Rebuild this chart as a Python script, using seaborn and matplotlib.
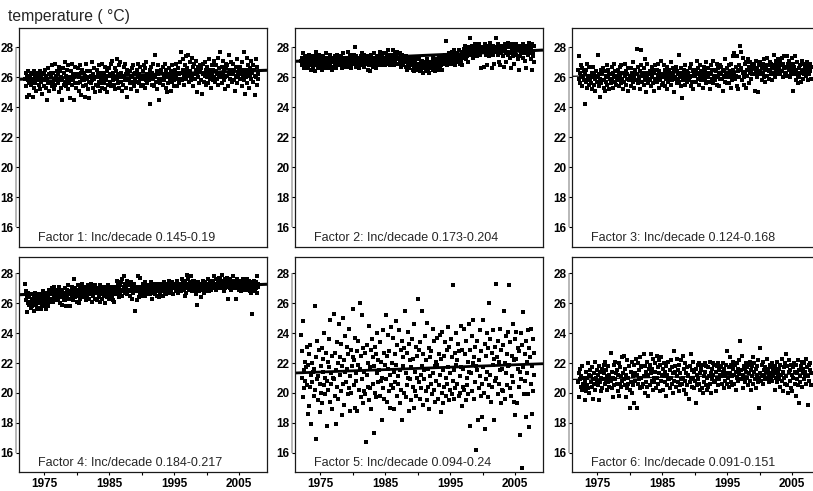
import numpy as np
import pandas as pd
import seaborn as sns
import matplotlib.pyplot as plt
from matplotlib import transforms
from matplotlib.path import Path

# monthly values, one line per year (Jan..Dec), 1972-2007
years = list(range(1972, 2008))
months = list(range(1, 13))

factor1_temp = """
25.9 26.3 25.4 24.7 26.1 25.8 26.4 25.6 24.8 26.0 25.5 26.2
25.7 26.3 24.7 25.9 26.4 25.3 26.0 25.6 26.2 25.1 25.8 26.3
26.1 25.5 25.9 26.4 25.2 26.0 25.7 26.3 24.9 25.8 26.2 25.4
25.8 26.5 25.3 26.1 24.5 25.9 26.6 25.6 26.2 25.1 25.7 26.3
26.0 25.4 26.8 25.7 26.3 25.2 25.9 26.9 25.5 26.1 25.8 26.4
25.6 26.2 25.0 26.7 25.9 26.4 25.3 26.0 24.5 25.8 26.6 25.5
26.3 25.7 27.0 25.4 26.1 25.9 26.5 25.2 26.8 25.6 26.0 24.6
25.9 26.4 25.5 26.9 25.8 26.2 24.5 26.0 25.6 26.7 25.3 26.1
26.2 25.6 26.6 25.1 26.0 26.8 25.7 26.3 24.8 25.9 26.5 25.4
25.8 26.3 24.7 26.1 25.5 26.9 25.9 26.4 25.2 26.0 24.6 25.7
26.4 25.6 26.1 27.0 25.8 25.3 26.2 25.9 26.6 25.0 26.0 25.5
26.0 26.5 25.4 26.2 25.7 26.8 25.1 26.3 25.9 25.6 26.9 25.3
25.9 26.3 25.6 26.7 25.2 26.0 25.8 26.4 25.0 26.1 25.5 26.6
26.2 25.7 26.9 25.4 26.1 27.1 25.8 26.3 25.5 26.0 26.6 25.2
26.4 25.9 27.2 25.6 26.2 25.3 26.8 26.0 27.0 25.7 26.3 25.1
26.1 25.5 26.7 26.0 25.8 26.9 25.3 26.2 24.7 26.5 25.9 26.3
25.8 26.4 25.6 26.1 25.2 26.6 26.0 25.7 26.8 25.4 26.2 25.9
26.3 25.7 26.5 25.1 26.0 26.9 25.6 26.2 25.9 26.7 25.4 26.1
25.9 26.4 25.5 26.8 26.1 25.3 26.6 25.8 27.0 26.2 25.6 26.0
26.2 25.8 26.5 24.2 26.0 26.7 25.5 26.3 25.9 26.9 25.4 26.1
26.0 27.5 25.7 26.4 25.2 26.2 26.8 25.9 24.5 26.3 25.6 26.5
26.4 25.9 26.7 25.5 26.1 25.8 26.9 26.2 25.3 26.5 25.0 26.0
26.2 25.6 26.6 26.0 25.9 26.4 25.1 26.8 25.7 26.3 26.0 25.4
25.8 26.5 26.1 26.9 25.4 26.3 25.9 26.6 25.6 26.2 27.0 25.9
26.3 27.7 25.8 26.5 27.2 26.0 25.5 26.8 26.2 27.4 25.9 26.4
26.6 26.1 27.5 25.7 26.4 27.0 26.2 25.8 27.3 26.0 26.7 25.4
26.2 26.9 25.9 26.5 27.1 26.3 25.0 26.7 26.0 26.4 25.6 26.8
26.4 25.8 26.6 24.9 26.2 26.9 25.7 26.3 26.1 27.0 25.5 26.5
26.0 26.7 25.6 26.3 27.2 25.9 26.5 26.1 25.3 26.8 26.2 25.8
26.5 26.0 27.1 25.7 26.4 26.8 25.9 26.2 27.3 25.5 26.6 26.1
26.3 27.7 26.0 25.6 26.7 26.2 27.1 25.8 26.5 26.0 25.2 26.9
26.6 26.1 26.8 25.4 26.3 27.5 25.9 26.5 26.2 27.0 25.7 26.4
26.2 26.9 25.8 26.5 25.1 26.7 26.1 27.2 25.6 26.3 26.0 26.6
26.4 25.9 26.7 26.2 27.0 25.4 26.5 26.1 27.7 25.8 26.3 24.9
26.5 26.0 27.3 25.6 26.8 26.2 25.3 26.6 26.1 27.1 25.9 26.4
26.3 26.8 25.7 26.5 24.8 26.1 27.2 26.0 25.5 26.7 26.2 25.9
"""

factor2_temp = """
27.1 26.8 27.3 27.6 26.9 27.2 26.6 27.0 27.4 26.7 27.1 26.9
27.3 26.6 27.0 27.5 26.8 27.2 26.5 27.4 26.9 27.1 26.7 27.3
26.9 27.4 26.4 27.1 27.7 26.8 27.2 26.6 27.0 27.5 26.9 27.3
27.2 26.7 27.0 26.5 27.4 27.1 26.8 27.3 26.6 27.0 27.6 26.9
26.8 27.3 27.0 26.6 27.2 26.9 27.5 26.7 27.1 26.5 27.3 27.0
27.1 26.7 27.4 26.9 27.2 26.6 27.0 27.5 26.8 27.3 26.9 27.1
27.0 27.4 26.8 27.2 26.6 27.1 27.6 26.9 27.3 26.7 27.0 27.2
27.3 26.8 27.7 27.0 26.7 27.2 26.9 27.5 27.1 26.6 27.3 27.0
27.1 27.5 26.9 28.0 27.2 26.7 27.4 27.0 26.8 27.3 27.1 26.6
27.2 26.8 27.4 27.1 27.6 26.9 27.0 27.3 26.7 27.5 27.2 26.9
26.9 27.3 27.0 26.5 27.4 27.1 26.8 27.2 26.4 27.0 27.5 26.8
27.1 26.7 27.3 27.6 26.9 27.2 26.6 27.0 27.4 26.8 27.1 27.3
27.4 27.0 27.7 26.8 27.2 27.5 27.0 26.9 27.3 27.6 27.1 26.8
27.2 27.6 27.0 27.4 26.9 27.8 27.1 27.3 26.8 27.5 27.0 27.2
27.5 27.1 27.8 27.3 26.8 27.6 27.0 27.4 27.2 26.9 27.7 27.3
27.3 26.9 27.6 27.1 27.4 26.7 27.2 27.5 27.0 26.8 27.3 27.1
27.0 27.4 26.7 27.2 26.5 27.1 26.9 27.3 26.6 27.0 26.8 27.2
26.8 27.2 26.5 27.0 26.7 26.4 27.1 26.9 26.6 27.3 26.8 26.5
26.9 26.6 27.2 26.4 26.8 27.0 26.5 26.7 27.1 26.3 26.9 26.6
26.7 27.0 26.4 26.9 26.6 27.2 26.5 26.8 26.3 27.0 26.7 26.9
27.0 26.6 26.8 27.3 26.5 26.9 27.1 26.4 26.7 27.0 26.6 27.2
26.8 27.1 26.5 27.4 26.9 26.6 27.2 26.8 27.0 26.5 27.3 26.9
27.2 26.9 27.5 27.0 28.4 27.3 26.8 27.4 27.1 27.6 26.9 27.2
27.4 27.0 27.7 27.2 26.9 27.5 27.1 27.8 27.3 26.8 27.4 27.6
27.2 27.6 27.0 27.4 27.8 26.9 27.3 27.5 27.1 27.7 26.8 27.4
27.5 27.9 27.3 28.1 27.6 27.2 27.8 27.4 28.0 27.0 27.7 27.5
28.6 27.8 27.5 28.1 27.7 27.3 28.0 27.6 27.9 27.4 28.2 27.7
27.8 28.1 27.4 27.9 27.6 28.2 27.5 27.8 26.6 28.0 27.7 27.9
27.7 28.0 26.7 27.9 28.2 27.5 27.8 26.8 28.1 27.6 27.9 27.4
28.0 27.6 28.3 27.8 26.6 27.9 27.5 28.1 27.7 26.9 28.0 27.8
27.9 28.6 27.7 28.2 27.5 27.0 28.0 27.8 26.8 28.1 27.6 27.9
27.8 28.1 27.4 26.7 27.9 28.2 27.6 27.0 28.0 27.7 28.3 27.5
28.0 27.6 28.1 27.3 26.6 27.9 28.2 27.7 27.4 28.0 26.9 27.8
27.7 28.2 27.5 27.9 27.2 28.0 26.5 27.8 28.1 27.4 27.9 27.6
28.1 27.8 27.3 28.2 27.6 27.9 27.1 28.0 26.6 27.7 28.1 27.5
27.9 28.3 27.6 28.0 27.2 27.8 26.5 28.2 27.7 27.4 28.1 27.0
"""

factor3_temp = """
26.5 27.4 25.9 26.3 25.6 26.8 26.1 25.4 26.6 26.0 25.8 26.4
24.2 26.2 25.7 26.5 25.3 26.9 25.9 26.1 25.5 26.7 25.8 26.0
25.6 26.3 25.2 26.0 26.7 25.5 26.2 25.9 25.1 26.4 25.7 26.1
26.0 27.5 25.4 26.2 24.7 25.9 26.5 25.6 26.3 25.8 26.6 25.3
25.8 26.4 25.1 26.1 25.7 26.8 25.5 26.0 26.5 25.2 26.2 25.9
26.2 25.6 26.7 25.9 26.3 25.3 26.0 26.9 25.7 26.4 25.5 26.1
25.9 26.5 25.8 26.2 25.4 26.7 26.0 25.6 26.8 25.9 26.3 25.2
26.3 25.7 26.1 26.9 25.5 26.4 25.9 26.2 25.1 26.6 25.8 26.0
26.0 26.6 25.4 26.3 25.9 27.0 25.7 26.1 25.3 26.5 26.2 25.8
27.9 26.2 25.6 26.7 26.0 25.9 26.4 25.2 26.8 27.8 25.7 26.3
26.1 25.5 26.6 27.2 25.8 26.3 25.0 26.0 26.9 25.6 26.2 25.9
26.4 25.8 26.2 25.4 26.7 26.0 25.6 26.5 25.1 26.3 25.9 26.8
25.9 26.5 25.7 26.1 26.9 25.3 26.4 26.0 25.8 27.1 26.2 25.5
26.2 25.6 26.8 26.0 25.4 26.5 25.9 26.3 25.2 26.7 26.0 25.7
26.5 25.9 26.3 25.5 27.0 26.1 25.8 26.6 26.2 25.0 26.4 25.9
26.0 26.7 25.6 26.4 25.9 26.2 27.5 25.7 26.3 26.0 25.4 26.6
24.6 26.1 25.8 26.5 26.2 25.5 26.8 26.0 25.9 26.4 25.7 26.3
26.3 25.8 26.6 26.0 25.4 26.9 26.1 25.7 26.4 25.2 26.2 26.5
26.1 26.5 25.7 26.3 27.1 25.9 26.6 25.5 26.2 26.0 26.8 25.8
26.4 25.9 26.2 25.3 26.7 26.1 25.8 26.5 27.0 25.6 26.3 26.0
26.0 26.6 25.7 26.3 25.2 26.8 26.2 25.9 26.5 25.6 27.1 26.1
26.5 25.8 26.4 26.1 25.5 26.9 26.0 26.6 25.4 26.2 26.8 25.9
26.2 26.7 25.9 26.4 25.1 26.5 26.1 25.7 27.2 26.3 26.0 25.6
26.6 26.0 26.8 25.6 26.4 26.2 25.3 26.9 26.1 25.8 26.5 27.4
26.3 27.6 25.9 26.7 26.1 25.4 27.4 26.4 25.2 26.8 26.0 26.5
28.1 26.6 27.7 25.8 26.3 27.3 26.0 25.5 26.9 26.2 27.0 25.3
26.5 26.1 27.2 26.7 25.6 26.3 27.0 26.4 25.9 26.8 26.2 26.6
26.7 26.2 26.9 25.1 26.5 27.1 26.0 26.6 25.0 26.3 26.8 26.4
26.4 27.0 26.2 26.6 25.8 26.9 26.3 27.2 26.0 26.5 25.7 26.8
26.6 27.3 26.1 26.8 26.4 25.9 27.0 26.5 26.2 26.9 26.7 25.8
26.8 26.3 27.5 26.6 26.0 27.1 26.5 26.2 26.9 27.2 26.4 26.7
26.5 27.0 26.2 26.8 27.3 26.4 26.0 26.9 26.6 27.4 26.3 26.1
26.7 26.3 27.4 26.1 26.9 26.5 27.1 26.0 26.6 26.2 26.8 27.3
26.4 26.9 25.1 26.7 26.2 27.4 26.5 25.8 26.3 27.0 26.1 25.6
26.6 26.0 26.8 26.3 25.7 27.1 26.4 26.9 25.9 26.5 26.2 26.7
26.3 26.8 26.1 27.0 26.5 25.8 26.6 26.2 26.9 26.4 25.9 26.7
"""

factor4_temp = """
27.3 26.2 26.8 25.4 26.5 26.0 26.7 25.9 26.4 26.1 25.7 26.6
26.3 25.8 26.6 26.1 25.5 26.4 26.0 26.7 25.9 26.2 25.6 26.5
26.1 26.6 25.7 26.3 26.0 25.6 26.5 26.2 25.9 26.8 26.1 25.8
26.4 25.9 26.2 25.6 26.7 26.0 26.5 25.8 26.3 26.9 26.1 26.6
26.6 27.0 26.3 26.8 26.1 26.5 27.1 26.4 26.7 26.2 26.9 26.5
26.8 26.3 26.6 27.1 26.4 26.0 26.7 26.5 25.9 26.9 26.6 26.2
26.5 27.0 26.2 26.7 25.8 26.9 26.4 26.6 27.2 26.3 26.8 25.8
26.7 26.3 27.1 26.5 26.9 26.2 27.6 26.6 26.4 27.0 26.7 26.1
26.9 26.5 27.2 26.0 26.7 27.0 26.3 26.8 26.6 27.3 26.4 26.9
26.6 27.1 26.4 26.9 26.7 26.2 27.0 26.5 26.8 27.2 26.3 26.7
27.0 26.6 27.3 26.8 26.1 26.9 26.5 27.1 26.7 26.3 27.2 26.8
26.7 26.2 26.9 27.0 26.4 26.8 26.1 27.2 26.6 26.9 26.3 27.0
26.9 26.5 27.1 26.7 26.0 26.8 27.0 26.4 26.6 27.2 26.5 26.3
26.6 27.0 26.3 26.9 26.5 27.1 26.2 26.7 26.8 26.1 27.0 26.6
27.1 26.7 27.5 26.9 27.3 26.4 27.0 26.6 27.2 26.8 27.4 26.5
27.6 26.9 27.8 27.1 26.7 27.3 26.8 27.0 27.5 26.6 27.2 26.9
26.8 27.2 26.5 27.4 26.9 27.1 26.3 27.0 26.7 27.3 26.8 27.1
25.5 26.8 27.0 26.2 27.8 26.9 26.4 27.1 26.6 27.7 26.8 26.5
27.0 26.7 27.3 26.9 27.1 26.5 27.4 26.8 27.2 26.6 27.0 26.9
26.9 27.2 26.6 27.0 27.4 26.8 26.3 27.1 26.7 27.3 26.9 27.0
27.1 26.6 27.3 26.9 26.5 27.2 26.8 27.0 26.4 27.3 26.7 27.1
26.8 27.2 26.9 26.5 27.4 27.0 26.7 27.3 26.9 26.6 27.1 26.8
27.2 26.9 27.5 27.0 26.7 27.3 26.8 27.1 27.4 26.6 27.0 27.2
27.0 27.3 26.8 27.1 26.9 27.5 27.2 26.7 27.0 27.3 26.9 27.1
27.3 26.8 27.6 27.1 27.4 26.9 27.2 26.5 27.5 27.0 26.7 27.3
27.9 27.2 27.6 26.9 27.4 27.1 27.8 27.0 26.8 27.3 27.5 27.1
27.2 27.5 26.9 27.3 26.6 27.1 25.9 27.4 27.0 27.2 26.8 27.3
27.0 26.4 27.3 26.9 27.1 27.5 26.7 27.2 26.9 27.4 27.0 26.8
27.3 27.0 27.6 27.2 26.8 27.4 27.1 27.5 26.9 27.3 27.0 27.2
27.5 27.1 27.8 27.3 26.9 27.6 27.2 27.0 27.4 27.1 27.7 27.3
27.2 27.6 27.0 27.4 27.9 27.1 27.5 26.8 27.3 27.0 27.6 27.2
27.4 27.1 27.7 26.3 27.3 27.5 27.0 27.6 27.2 26.9 27.4 27.1
27.3 27.8 27.0 27.5 27.2 26.3 27.4 27.1 27.6 27.0 27.3 26.9
27.1 27.5 27.2 26.8 27.4 27.0 27.6 27.3 26.9 27.5 27.1 27.2
27.4 27.0 27.6 27.2 26.9 27.5 27.1 27.3 26.8 27.4 26.7 27.2
25.3 27.1 26.9 27.5 27.2 26.8 27.4 27.0 27.8 26.7 27.3 27.1
"""

factor5_temp = """
23.9 21.0 22.8 19.7 24.8 21.5 20.3 22.1 20.8 21.7 23.1 20.5
18.6 21.9 19.1 22.6 20.4 23.2 21.2 17.9 22.0 20.7 21.4 19.8
21.6 25.8 20.2 16.9 22.4 20.9 23.5 21.1 19.5 22.9 20.6 18.7
21.8 20.0 23.0 19.3 22.3 21.4 20.5 24.0 21.0 19.9 22.7 20.8
17.8 22.1 20.2 21.7 23.6 19.4 24.9 21.3 20.6 22.5 18.9 21.0
20.9 25.3 19.8 22.7 17.9 21.5 23.4 20.4 22.0 19.6 24.6 21.2
22.4 20.1 23.3 18.5 21.8 20.6 25.0 22.2 19.2 21.4 23.8 20.7
21.6 23.1 19.9 22.6 20.3 24.3 21.1 18.8 22.9 20.0 21.8 22.4
25.6 20.5 22.2 19.0 23.7 21.3 20.8 22.8 18.8 21.9 23.5 20.2
26.0 21.6 19.7 22.5 20.9 25.2 19.3 23.0 21.4 20.1 22.7 19.9
16.7 21.2 23.2 20.4 22.0 19.5 24.5 21.7 20.3 22.9 18.9 23.6
20.6 22.4 17.3 21.8 23.1 20.0 22.6 19.7 24.0 21.3 20.7 22.2
21.5 19.8 23.4 20.8 22.1 18.2 21.0 24.2 20.3 22.7 19.6 21.9
25.2 20.9 22.5 19.4 23.9 21.6 20.1 22.8 19.0 21.2 24.4 20.5
22.0 20.3 23.7 21.4 18.9 22.6 20.7 24.8 21.9 19.8 23.2 21.1
20.6 24.2 21.5 19.3 22.9 20.2 23.5 18.2 21.8 22.4 20.0 23.0
25.5 21.3 19.7 22.7 20.5 24.1 21.0 18.8 23.3 20.9 22.2 19.5
21.7 23.6 20.4 22.3 19.0 24.6 21.4 20.1 23.1 19.8 22.5 21.0
26.3 20.7 22.9 19.6 23.4 21.2 20.3 25.5 21.8 19.2 22.6 20.9
21.5 23.8 20.1 22.2 19.5 24.7 21.6 20.4 23.0 18.9 22.4 21.1
20.6 22.8 19.9 24.3 21.3 20.2 23.5 21.8 19.4 22.1 20.8 23.7
21.9 19.6 22.6 20.5 23.9 21.2 18.7 22.3 20.0 24.1 21.5 19.3
22.5 20.4 23.4 21.0 19.8 22.9 20.6 24.4 21.7 19.5 23.1 20.2
21.3 23.6 19.9 22.4 20.8 27.2 21.5 19.6 22.7 20.3 24.0 21.9
22.2 20.6 23.3 19.8 22.8 21.1 20.0 24.5 21.7 19.1 22.9 20.4
21.6 24.3 20.2 22.6 19.5 23.5 21.0 20.5 22.1 19.9 24.6 21.4
22.9 17.8 21.3 23.8 20.1 24.9 22.0 19.6 22.4 20.7 23.1 21.8
16.2 21.5 23.5 18.2 22.2 20.3 24.2 21.1 19.8 22.8 20.6 18.4
24.9 21.7 20.0 23.3 17.6 22.5 20.9 24.0 21.4 19.7 23.0 20.5
26.0 21.2 23.6 19.4 22.7 20.4 24.2 21.9 18.2 22.3 20.8 23.1
21.0 27.3 22.4 19.9 23.5 20.6 22.1 24.3 21.5 19.3 22.9 20.2
21.6 23.2 20.1 25.5 22.0 19.6 23.8 21.3 20.5 22.6 21.8 24.1
27.2 21.9 20.3 23.4 19.8 22.5 21.1 24.6 20.7 22.2 19.4 23.6
18.5 22.3 24.1 19.3 21.6 23.0 20.4 22.8 17.2 21.4 24.0 20.9
15.0 23.2 21.7 25.4 19.9 22.6 20.8 23.5 18.4 22.1 21.3 24.2
19.9 23.0 17.7 22.4 20.6 24.3 18.6 21.8 23.6 20.1 22.7 21.2
"""

factor6_temp = """
20.7 21.3 19.7 20.9 21.6 20.4 21.1 20.2 21.8 20.6 21.0 20.3
19.5 20.8 21.4 20.1 21.0 20.5 22.0 20.3 21.2 20.0 21.5 20.7
21.1 20.4 21.7 20.9 19.6 21.3 20.6 22.1 20.2 21.0 20.8 21.5
20.5 21.2 19.5 21.8 20.7 21.4 20.1 21.0 21.6 20.3 20.9 21.9
21.3 20.6 22.1 20.8 21.5 20.2 21.1 20.7 21.8 20.4 21.2 20.9
20.8 22.7 20.3 21.4 19.7 21.0 21.9 20.5 22.1 20.9 21.3 20.6
21.5 20.1 21.2 19.8 22.0 20.6 21.7 20.4 21.1 22.4 20.8 21.3
20.9 22.5 20.5 21.6 19.7 21.2 20.3 22.2 21.0 20.6 21.8 20.2
19.0 21.4 20.7 22.1 20.0 21.1 20.5 21.9 19.3 21.3 20.8 22.3
21.2 19.0 22.0 20.6 21.5 20.9 22.4 20.3 21.7 21.0 20.4 21.8
20.6 22.6 21.1 20.0 21.8 20.7 21.4 22.1 20.4 21.2 19.8 21.6
21.9 20.5 22.6 21.3 20.8 21.6 20.2 22.3 21.0 20.7 21.4 22.0
20.3 22.5 21.0 21.7 20.6 22.2 21.3 20.1 21.9 20.8 22.4 21.2
21.6 20.2 21.1 22.0 20.7 21.4 19.8 21.8 20.5 21.2 20.9 22.1
20.9 21.5 20.3 22.2 21.0 20.6 21.7 20.0 21.3 22.8 20.8 21.4
21.8 20.4 22.3 21.1 20.7 21.5 20.1 21.9 20.5 21.3 22.2 20.9
20.6 22.5 21.0 20.2 21.6 20.8 22.0 21.3 19.9 21.7 20.5 21.1
21.2 19.6 21.8 20.7 22.6 21.0 20.4 21.5 20.9 22.1 20.3 21.4
20.8 21.6 19.3 21.2 20.5 21.9 20.9 22.0 20.6 21.3 20.2 21.7
21.5 20.3 21.9 20.0 21.1 20.7 22.0 21.4 20.5 21.8 21.0 20.2
20.4 21.7 21.1 22.1 20.6 21.3 20.0 21.6 20.9 22.0 21.2 20.7
21.9 20.8 21.4 20.1 21.8 21.0 22.0 20.5 21.5 20.9 21.7 21.2
21.1 21.8 20.6 21.4 22.0 20.3 21.6 21.1 20.8 21.9 21.3 20.6
22.8 21.0 21.7 20.4 22.4 21.3 20.7 21.9 21.1 20.5 21.6 22.1
21.2 20.6 21.9 21.4 20.2 22.0 21.0 21.6 20.8 21.3 22.2 20.9
23.5 21.5 20.9 22.5 21.2 20.3 21.8 21.0 21.6 20.7 22.0 21.4
21.0 21.7 20.5 21.9 21.3 22.1 20.8 21.5 20.2 21.8 21.1 22.4
20.6 21.4 22.0 20.9 21.6 20.3 21.2 21.8 20.7 22.2 21.0 19.0
23.0 21.3 20.8 21.9 21.1 22.1 20.6 21.5 21.2 20.9 21.7 21.0
21.4 22.3 20.9 21.6 21.2 20.7 21.9 21.3 21.0 21.7 20.8 22.0
21.1 21.6 21.3 20.2 21.8 21.0 21.5 22.1 20.7 21.4 21.2 20.9
21.6 20.4 21.9 21.2 20.8 22.3 21.4 20.1 21.7 21.0 22.0 20.6
22.6 21.1 20.5 21.8 20.0 21.4 22.2 20.8 21.5 20.3 21.9 21.2
20.1 21.7 21.0 22.0 20.6 21.4 19.8 21.9 20.9 21.3 22.2 20.5
19.3 21.5 21.1 20.7 21.8 22.1 20.4 21.3 21.6 20.9 22.0 21.2
21.4 22.3 20.6 21.7 21.1 19.2 21.9 20.8 21.5 22.0 20.5 21.3
"""

factor_temps = [factor1_temp, factor2_temp, factor3_temp,
                factor4_temp, factor5_temp, factor6_temp]
factor_labels = ["Factor 1: Inc/decade 0.145-0.19",
                 "Factor 2: Inc/decade 0.173-0.204",
                 "Factor 3: Inc/decade 0.124-0.168",
                 "Factor 4: Inc/decade 0.184-0.217",
                 "Factor 5: Inc/decade 0.094-0.24",
                 "Factor 6: Inc/decade 0.091-0.151"]

# fitted trend: level in 1990 and change per decade
trend_1990 = [26.15, 27.42, 26.32, 26.90, 21.64, 21.10]
trend_per_decade = [0.157, 0.196, 0.144, 0.183, 0.162, 0.104]
trend_lw = [2.2, 2.2, 0.9, 2.2, 2.0, 0.9]

xticks = [1975, 1980, 1985, 1990, 1995, 2000, 2005]
xticklabels = ["1975", "", "1985", "", "1995", "", "2005"]
yticks = [16, 18, 20, 22, 24, 26, 28]

# build long table
rows = []
for i, txt in enumerate(factor_temps):
    vals = np.array(txt.split(), dtype=float).reshape(len(years), len(months))
    for yi, yr in enumerate(years):
        for mi, mo in enumerate(months):
            rows.append((i, yr + (mo - 0.5) / 12.0, vals[yi, mi]))
df = pd.DataFrame(rows, columns=["factor", "time", "temp"])

sns.set_theme(style="white")
plt.rcParams["font.family"] = ["Liberation Sans", "DejaVu Sans"]

fig = plt.figure(figsize=(8.13, 4.91), dpi=100)
W, H = 813.0, 491.0
col_left = [19, 295, 572]
row_top = [28, 257]
row_bottom = [247, 472]
ylims = [(14.67, 29.27), (14.73, 29.07)]
xlim = (1971.1, 2009.3)

# short fat dash, like the printed marks
dash = Path([(-1, -0.65), (1, -0.65), (1, 0.65), (-1, 0.65), (-1, -0.65)],
            closed=True)

for i in range(6):
    r, c = divmod(i, 3)
    ax = fig.add_axes([col_left[c] / W, 1 - row_bottom[r] / H,
                       248 / W, (row_bottom[r] - row_top[r]) / H])
    sub = df[df["factor"] == i]
    sns.scatterplot(data=sub, x="time", y="temp", ax=ax, marker=dash,
                    s=12, color="black", linewidth=0, legend=False)

    # trend line across the whole panel
    xs = np.array(xlim)
    ys = trend_1990[i] + trend_per_decade[i] * (xs - 1990) / 10.0
    ax.plot(xs, ys, color="black", lw=trend_lw[i], solid_capstyle="butt")

    ax.set_xlim(*xlim)
    ax.set_ylim(*ylims[r])
    ax.set_xlabel("")
    ax.set_ylabel("")
    ax.set_yticks(yticks, labels=[str(t) for t in yticks],
                  fontsize=8.5, fontweight="bold")
    if r == 1:
        ax.set_xticks(xticks, labels=xticklabels, fontsize=8.5, fontweight="bold")
    else:
        ax.set_xticks([])
    ax.tick_params(axis="both", direction="out", length=2.5, width=0.8,
                   pad=1.5, colors="black", left=True, bottom=(r == 1))
    for sp in ax.spines.values():
        sp.set_visible(True)
        sp.set_color("#1a1a1a")
        sp.set_linewidth(0.9)

    # light grey bar just left of the y axis
    trans = transforms.blended_transform_factory(ax.transAxes, ax.transData) + \
        transforms.ScaledTranslation(-2.2 / 72, 0, fig.dpi_scale_trans)
    ax.plot([0, 0], [yticks[0], yticks[-1]], transform=trans, color="#b8b8b8",
            lw=1.4, clip_on=False, solid_capstyle="butt", zorder=0)

    ax.text(0.077, 0.012, factor_labels[i], transform=ax.transAxes,
            ha="left", va="bottom", fontsize=9)

fig.text(8 / W, 1 - 16 / H, "temperature ( \u00b0C)", ha="left", va="center",
         fontsize=11.3)

fig.savefig("out.png", dpi=100)
